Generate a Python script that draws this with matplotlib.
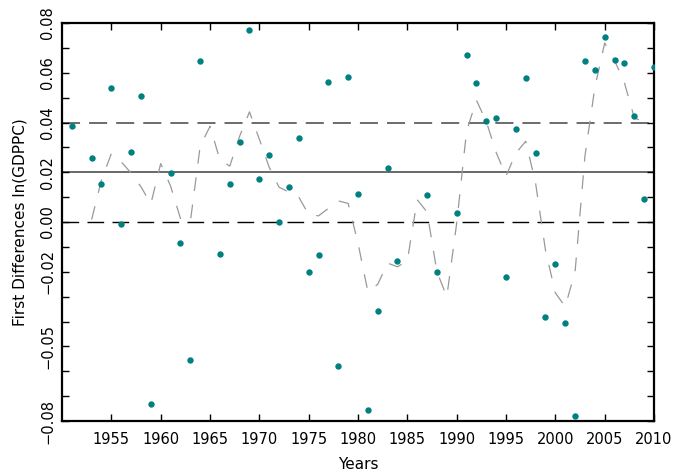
import matplotlib
matplotlib.use("Agg")
import matplotlib.pyplot as plt
import numpy as np

# Yearly first differences of ln(GDPPC) (points off the chart are not listed)
years = [1951, 1953, 1954, 1955, 1956, 1957, 1958, 1959, 1961, 1962, 1963, 1964,
         1965, 1966, 1967, 1968, 1969, 1970, 1971, 1972, 1973, 1974, 1975, 1976,
         1977, 1978, 1979, 1980, 1981, 1982, 1983, 1984, 1987, 1988, 1990, 1991,
         1992, 1993, 1994, 1995, 1996, 1997, 1998, 1999, 2000, 2001, 2002, 2003,
         2004, 2005, 2006, 2007, 2008, 2009, 2010]
diffs = [0.0385, 0.0258, 0.0154, 0.0537, -0.0007, 0.0283, 0.0505, -0.0730, 0.0197,
         -0.0086, -0.0553, 0.0649, 0.0830, -0.0128, 0.0153, 0.0321, 0.0772, 0.0174,
         0.0270, -0.0001, 0.0140, 0.0338, -0.0201, -0.0133, 0.0562, -0.0577, 0.0583,
         0.0113, -0.0757, -0.0357, 0.0219, -0.0158, 0.0108, -0.0201, 0.0038, 0.0672,
         0.0558, 0.0408, 0.0418, -0.0221, 0.0376, 0.0579, 0.0277, -0.0380, -0.0170,
         -0.0404, -0.0780, 0.0648, 0.0611, 0.0745, 0.0651, 0.0639, 0.0427, 0.0094,
         0.0625]

# smoothed series (dashed grey)
smooth_years = list(range(1953, 2010))
smooth = [0.0010, 0.0170, 0.0275, 0.0242, 0.0197, 0.0142, 0.0073, 0.0235, 0.0145,
          0.0015, 0.0000, 0.0305, 0.0385, 0.0250, 0.0225, 0.0345, 0.0443, 0.0333,
          0.0220, 0.0140, 0.0120, 0.0100, 0.0030, 0.0025, 0.0055, 0.0085, 0.0075,
          -0.0085, -0.0280, -0.0250, -0.0165, -0.0180, -0.0155, 0.0090, 0.0040,
          -0.0200, -0.0300, -0.0005, 0.0365, 0.0490, 0.0404, 0.0280, 0.0185, 0.0277,
          0.0325, 0.0156, -0.0113, -0.0285, -0.0340, -0.0200, 0.0265, 0.0540, 0.0720,
          0.0650, 0.0560, 0.0420, 0.0400]

mean_line = 0.02
band = [0.00, 0.04]

ytick_vals = [round(v, 2) for v in np.arange(-0.08, 0.0801, 0.01)]
ytick_text = {0.08: "0.08", 0.06: "0.06", 0.04: "0.04", 0.02: "0.02", 0.0: "0.00",
              -0.02: "\u22120.02", -0.05: "\u22120.05", -0.08: "\u22120.08"}
xticks = list(range(1955, 2011, 5))

plt.rcParams['font.family'] = ['DejaVu Sans']
fig = plt.figure(figsize=(6.75, 4.76), dpi=100)
ax = fig.add_axes([0.0919, 0.1155, 0.877, 0.836])

ax.axhline(mean_line, color='#505050', linewidth=1.2, zorder=1)
ax.axhline(band[1], color='#606060', linewidth=1.3, dashes=(10, 5), zorder=1)
ax.axhline(band[0], color='black', linewidth=1.0, dashes=(12, 6), zorder=1)

ax.plot(smooth_years, smooth, color='#999999', linewidth=0.9, dashes=(11, 11), zorder=2)
ax.plot(years, diffs, 'o', color='#008080', markersize=4.6, markeredgewidth=0, zorder=3)

ax.set_xlim(1950, 2010)
ax.set_ylim(-0.08, 0.08)
ax.set_xticks(xticks)
ax.set_yticks(ytick_vals)
ax.set_yticklabels([ytick_text.get(v, "") for v in ytick_vals], rotation=90, va='center')

ax.tick_params(direction='in', length=5, width=1, top=True, right=True,
               labelsize=10.5, colors='black')
ax.tick_params(axis='x', pad=8)
ax.tick_params(axis='y', pad=5)
for s in ax.spines.values():
    s.set_linewidth(1.6)

ax.set_xlabel("Years", fontsize=11, labelpad=7)
ax.set_ylabel("First Differences ln(GDPPC)", fontsize=11, labelpad=9)

fig.savefig("out.png", dpi=100)
